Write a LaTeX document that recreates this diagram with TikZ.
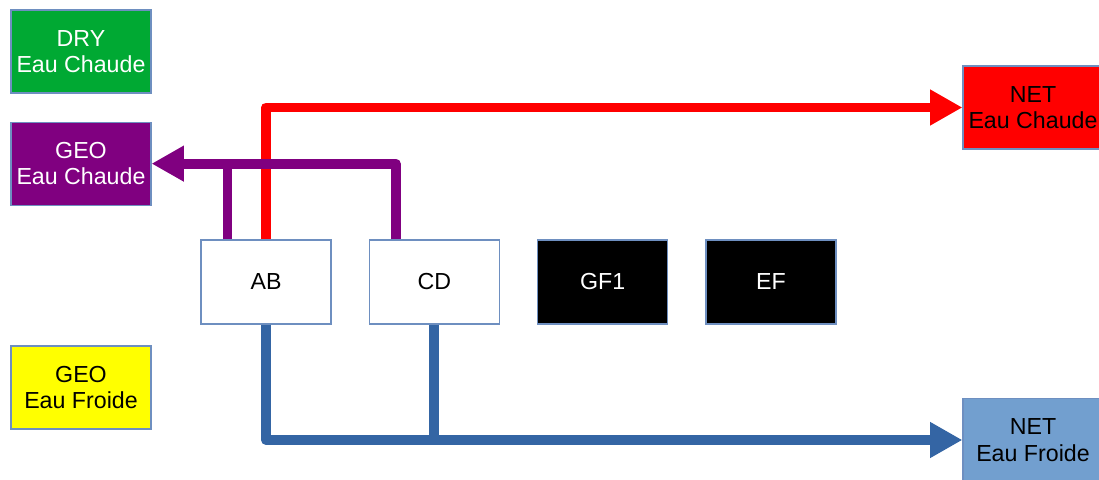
\documentclass[tikz,border=0pt]{standalone}
\usepackage{fontspec}
\setmainfont{Liberation Sans}
\usepackage{xcolor}
\usetikzlibrary{arrows.meta, positioning}

\definecolor{drygreen}{HTML}{00A933}
\definecolor{geopurple}{HTML}{800080}
\definecolor{netred}{HTML}{FF0000}
\definecolor{geoyellow}{HTML}{FFFF00}
\definecolor{coldblue}{HTML}{3465A4}
\definecolor{netblue}{HTML}{729FCF}
\definecolor{edgeblue}{HTML}{6E8FC0}

\begin{document}
\begin{tikzpicture}[
  node distance=0.7cm and 0.93cm,
  every node/.style={font=\fontsize{16.5}{19}\selectfont, align=center},
  srcbox/.style={draw=edgeblue, line width=0.8pt, minimum width=3.5cm, minimum height=2.075cm, inner sep=0pt},
  unitbox/.style={draw=edgeblue, line width=0.8pt, minimum width=3.25cm, minimum height=2.1cm, inner sep=0pt},
  pipe/.style={line width=7pt, line join=round},
  >={Triangle[length=23pt, width=24pt]}
]
\useasboundingbox (0,0) rectangle (27.475,-11.975);

% Left column
\node (dry) [srcbox, fill=drygreen, text=white] at (2.025,-1.2875) {DRY\\Eau Chaude};
\node (geoc) [srcbox, fill=geopurple, text=white, below=of dry] {GEO\\Eau Chaude};
\node (geof) [srcbox, fill=geoyellow] at (2.025,-9.6875) {GEO\\Eau Froide};

% Middle row
\node (ab) [unitbox, fill=white] at (6.65,-7.05) {AB};
\node (cd) [unitbox, fill=white, right=of ab] {CD};
\node (gf) [unitbox, fill=black, text=white, right=of cd] {GF1};
\node (ef) [unitbox, fill=black, text=white, right=of gf] {EF};

% Right column
\node (netc) [srcbox, fill=netred] at (25.825,-2.6875) {NET\\Eau Chaude};
\node (netf) [srcbox, fill=netblue] at (25.825,-11.0) {NET\\Eau Froide};

% Hot water
\draw[pipe, netred, ->] (ab.north) |- (netc.west);
\coordinate (abgeo) at ([xshift=0.675cm]ab.north west);
\coordinate (cdgeo) at ([xshift=0.675cm]cd.north west);
\draw[pipe, geopurple, ->] (cdgeo) |- (geoc.east);
\draw[pipe, geopurple] (abgeo) -- (abgeo |- geoc.east);

% Cold water
\draw[pipe, coldblue, ->] (ab.south) |- (netf.west);
\draw[pipe, coldblue] (cd.south) -- (cd.south |- netf.west);
\end{tikzpicture}
\end{document}
